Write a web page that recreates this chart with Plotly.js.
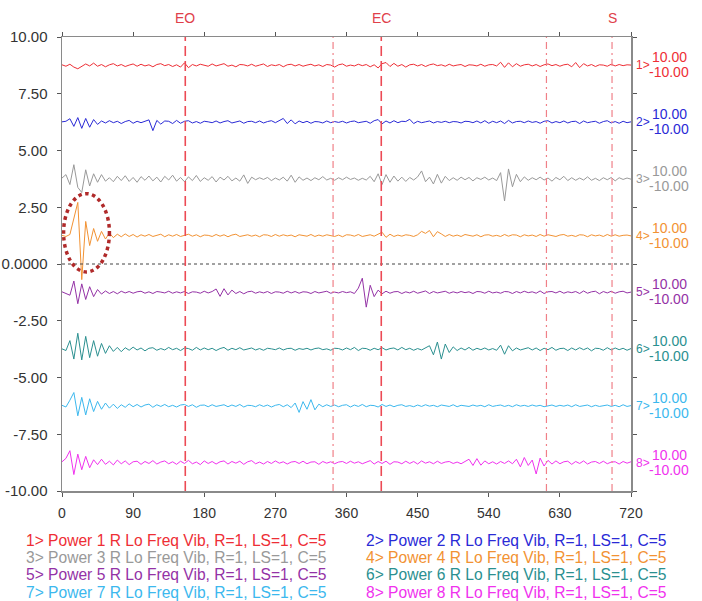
<!DOCTYPE html>
<html>
<head>
<meta charset="utf-8">
<script src="https://cdn.plot.ly/plotly-3.0.1.min.js"></script>
<style>html,body{margin:0;padding:0;background:#fff;}#chart{width:702px;height:601px;}</style>
</head>
<body>
<div id="chart"></div>
<script>
// ---------------- DATA ----------------
const sampleStep = 5;            // seconds between samples (0 .. 720)
const channelNames = [
  "1> Power 1 R Lo Freq Vib, R=1, LS=1, C=5",
  "2> Power 2 R Lo Freq Vib, R=1, LS=1, C=5",
  "3> Power 3 R Lo Freq Vib, R=1, LS=1, C=5",
  "4> Power 4 R Lo Freq Vib, R=1, LS=1, C=5",
  "5> Power 5 R Lo Freq Vib, R=1, LS=1, C=5",
  "6> Power 6 R Lo Freq Vib, R=1, LS=1, C=5",
  "7> Power 7 R Lo Freq Vib, R=1, LS=1, C=5",
  "8> Power 8 R Lo Freq Vib, R=1, LS=1, C=5"
];
const channelTags = ["1>", "2>", "3>", "4>", "5>", "6>", "7>", "8>"];
const channelMax = 10;   // each channel scaled -10.00 .. 10.00
const channelMin = -10;
const baselines = [8.75, 6.25, 3.75, 1.25, -1.25, -3.75, -6.25, -8.75];

const ch1 = [0.2,-0.3,0.4,-0.6,-1.2,-0.4,0.5,-0.2,0.8,-0.3,
 0.3,-0.5,0.2,0.6,-0.2,0.3,-0.4,0.1,0.5,-0.3,
 0.4,-0.2,0.2,-0.5,0.3,0.6,-0.1,0.3,-0.4,0.2,
 -0.6,0.9,-0.8,0.3,-0.2,0.4,0.1,-0.3,0.5,-0.2,
 0.2,0.6,-0.3,0.1,-0.5,0.3,0.2,-0.2,0.4,-0.3,
 0.1,0.5,-0.4,0.2,-0.1,0.3,-0.5,0.2,0.4,-0.2,
 0.3,-0.3,0.1,0.4,-0.2,0.2,-0.4,0.3,0.1,-0.6,
 0.2,0.5,-0.3,0.1,-0.2,0.4,-0.1,0.3,-0.5,0.2,
 -0.9,0.6,1.0,-0.4,0.7,-0.3,0.3,-0.6,0.2,0.4,
 -0.2,0.3,-0.4,0.2,0.5,-0.1,0.2,-0.3,0.4,-0.2,
 0.1,0.3,-0.4,0.2,0.1,-0.2,0.4,-0.3,0.2,0.3,
 -0.2,1.1,-0.7,0.9,-0.5,0.6,-0.3,0.2,0.4,-0.2,
 0.3,-0.4,0.2,0.5,-0.1,0.3,-0.3,0.2,0.4,-0.5,
 1.0,-0.8,0.6,-0.2,0.3,-0.4,0.2,0.1,-0.3,0.4,
 -0.2,0.3,-0.1,0.2,0.1];
const ch2 = [0.1,0.3,1.2,-1.5,1.6,-2.2,1.3,-1.8,0.9,-0.8,
 0.4,-0.3,0.5,-0.2,0.3,-0.5,0.2,0.6,-0.4,0.3,
 -0.2,0.4,0.8,-3.0,0.6,-0.7,0.4,0.3,-0.5,0.6,
 -0.4,0.3,0.5,-0.3,0.2,-0.4,0.3,0.1,-0.2,0.4,
 -0.3,0.2,0.5,-0.3,0.1,0.4,-0.4,0.2,0.3,-0.2,
 0.4,-0.3,0.2,0.5,-0.2,0.6,1.3,-0.5,0.8,-0.6,
 0.4,-0.2,0.3,-0.4,0.2,0.1,-0.3,0.4,-0.2,0.2,
 -0.1,0.3,-0.3,0.2,0.4,-0.2,0.1,0.3,-0.4,0.5,
 0.9,-0.6,0.4,-0.3,0.5,-0.2,0.3,0.2,1.0,-0.5,
 0.3,-0.2,0.1,0.4,-0.3,0.2,-0.1,0.3,-0.2,0.2,
 0.1,-0.3,0.3,0.2,-0.2,0.4,-0.3,0.5,-0.4,0.3,
 -0.2,0.4,-0.5,0.6,-0.3,0.2,0.3,-0.2,0.4,-0.1,
 0.2,-0.4,0.3,0.5,-0.3,0.2,-0.2,0.4,-0.3,0.2,
 0.3,-0.5,0.4,-0.2,0.1,0.3,-0.4,0.2,0.5,-0.3,
 0.2,-0.4,0.3,-0.2,0.1];
const ch3 = [0.3,1.5,-2.0,5.0,-3.0,-4.8,3.2,-2.5,1.8,-1.2,
 1.5,-0.8,0.4,-1.0,0.9,-0.6,1.1,-0.9,0.5,-1.2,
 0.8,-0.5,1.0,-0.7,0.6,-1.1,0.9,-0.4,1.3,-0.8,
 0.5,-1.0,0.7,-0.6,1.2,-0.9,0.4,-0.5,0.8,-1.1,
 0.6,-0.4,0.9,-0.7,0.3,-0.8,1.4,-1.6,0.6,-0.3,
 0.4,-0.2,0.5,-0.6,0.3,-0.4,0.6,-0.8,1.3,-1.2,
 0.7,-0.5,0.3,-0.6,0.4,-0.3,0.8,-0.4,0.2,-0.5,
 0.4,-0.3,0.6,-0.2,0.3,-0.5,0.2,-0.4,0.9,-1.0,
 1.8,-2.0,1.5,-1.2,1.0,-0.8,0.6,-0.9,0.5,-0.4,
 0.7,2.8,-1.0,0.6,-1.8,1.6,-1.5,0.9,-0.6,0.4,
 -0.5,0.6,-0.3,0.5,-0.7,0.4,-0.2,0.6,-0.4,0.3,
 -0.6,2.2,-7.8,3.5,-2.8,1.6,-1.0,0.7,-0.5,0.4,
 -0.3,0.6,-0.4,0.3,-0.8,0.5,-0.3,0.9,-0.6,0.4,
 -0.5,0.3,-0.4,0.7,-0.5,0.2,-0.6,0.4,-0.3,0.5,
 -0.7,0.4,-0.2,0.3,-0.1];
const ch4 = [0.1,-0.3,0.4,6.4,11.7,-15.5,5.0,-3.5,2.5,-2.0,
 1.5,-1.2,0.9,-0.7,0.5,-0.4,0.6,-0.3,0.4,-0.5,
 0.3,-0.2,0.4,-0.3,0.2,0.5,-0.4,0.3,-0.2,0.4,
 -0.3,0.2,0.5,-0.2,0.3,-0.4,0.2,0.1,-0.3,0.4,
 -0.2,0.3,-0.4,0.2,0.5,-0.3,0.1,0.3,-0.2,0.2,
 -0.4,0.3,0.2,-0.3,0.4,-0.2,0.3,-0.1,0.2,-0.4,
 0.3,0.1,-0.2,0.4,-0.3,0.2,-0.2,0.3,0.1,-0.3,
 0.2,-0.4,0.3,0.2,-0.2,0.4,-0.3,0.1,0.3,-0.2,
 0.4,1.2,-0.6,0.5,-0.3,0.2,-0.2,0.3,0.1,-0.3,
 0.3,1.5,0.8,1.8,-0.4,1.4,0.6,-0.3,0.4,-0.2,
 0.2,-0.3,0.4,0.1,-0.2,0.3,-0.4,0.2,0.3,-0.2,
 0.1,-0.3,0.4,-0.2,0.3,0.2,-0.4,0.3,-0.1,0.2,
 -0.3,0.4,-0.2,0.3,0.1,-0.3,0.2,0.4,-0.2,0.1,
 -0.3,0.3,0.2,-0.4,0.3,-0.1,0.2,-0.3,0.4,-0.2,
 0.3,-0.2,0.1,0.2,-0.1];
const ch5 = [0.2,-0.4,-1.0,4.0,-4.0,3.0,-2.5,2.0,-1.5,1.0,
 -0.6,0.5,-0.4,0.3,-0.5,0.4,-0.2,0.3,-0.3,0.2,
 0.4,-0.3,0.2,-0.4,0.3,0.1,-0.2,0.4,-0.3,0.2,
 -0.2,0.3,-0.4,0.2,0.1,-0.3,0.4,-0.2,0.3,1.2,
 -1.4,1.3,-0.9,0.8,-0.4,0.3,-0.5,0.2,0.4,-0.3,
 0.2,-0.2,0.3,-0.4,0.2,0.1,-0.3,0.4,-0.2,0.3,
 -0.3,0.2,0.1,-0.4,0.3,-0.2,0.2,0.4,-0.3,0.1,
 -0.2,0.3,-0.1,0.2,-0.4,1.5,5.0,-5.2,2.5,-1.5,
 0.8,-0.5,0.4,-0.3,0.2,0.3,-0.4,0.2,-0.2,0.4,
 -0.3,0.2,0.5,-0.4,0.3,-0.2,0.1,0.4,-0.3,0.2,
 -0.2,0.3,-0.1,0.2,-0.4,0.3,0.2,-0.3,0.4,-0.2,
 0.1,-0.3,0.3,0.2,-0.4,0.3,-0.2,0.4,-0.1,0.2,
 -0.3,0.5,-0.4,0.2,0.3,-0.2,0.4,-0.3,0.2,-0.1,
 0.3,-0.4,0.5,-0.3,0.2,0.4,-0.5,0.3,-0.2,0.4,
 -0.3,0.2,0.4,-0.2,0.1];
const ch6 = [0.1,-0.5,3.0,-3.5,5.6,-3.8,4.5,-3.0,3.0,-2.5,
 2.0,-1.5,1.2,-0.8,0.6,-0.9,0.5,-0.4,0.7,-0.3,
 0.4,-0.6,0.3,0.5,-0.4,0.2,-0.3,0.6,-0.2,0.3,
 -0.5,0.4,0.2,-0.4,0.6,-0.3,0.4,-0.2,0.3,-0.5,
 0.2,0.6,-0.4,0.3,-0.2,0.5,-0.3,0.1,0.4,-0.3,
 0.2,-0.4,0.3,0.1,-0.2,0.4,-0.3,0.2,0.3,-0.4,
 0.2,-0.1,0.3,-0.3,0.2,0.4,-0.2,0.1,-0.4,0.3,
 0.2,-0.3,0.4,-0.2,0.6,-0.5,0.3,0.2,-0.4,0.3,
 -0.2,0.5,-0.3,0.2,0.4,-0.3,0.6,-0.2,0.3,-0.4,
 0.2,-0.3,0.4,1.2,-2.0,2.5,-3.5,1.8,-1.2,0.8,
 -0.5,0.4,-0.3,0.6,-0.4,0.3,-0.2,0.4,-0.3,0.2,
 -0.4,1.4,-1.8,1.2,-0.6,0.4,-0.3,0.2,0.5,-0.3,
 0.4,-0.5,0.3,-0.2,0.6,-0.4,0.2,0.3,-0.5,0.4,
 -0.3,0.5,-0.2,0.4,-0.6,0.3,0.2,-0.4,0.5,-0.3,
 0.4,-0.2,0.3,-0.4,0.2];
const ch7 = [0.2,-0.4,2.0,4.7,-3.5,3.0,-3.2,2.5,-2.0,1.6,
 -1.2,1.0,-0.8,0.6,-0.9,0.4,-0.5,0.7,-0.3,0.5,
 -0.4,0.3,0.6,-0.5,0.4,-0.2,0.5,-0.3,0.2,-0.4,
 0.3,0.5,-0.2,0.4,-0.5,0.2,0.3,-0.3,0.4,-0.2,
 0.1,0.4,-0.3,0.3,-0.2,0.5,-0.4,0.2,0.1,-0.3,
 0.4,-0.2,0.3,-0.4,0.2,0.5,-0.3,0.4,-0.6,1.0,
 -2.3,1.5,-1.2,2.2,-1.4,0.6,-0.3,0.4,-0.2,0.3,
 -0.3,0.2,0.4,-0.4,0.3,-0.2,0.5,-0.3,0.2,0.1,
 -0.4,0.5,-0.2,0.3,-0.3,0.2,0.4,-0.2,0.1,-0.3,
 0.3,-0.2,0.4,-0.1,0.2,-0.3,0.3,0.1,-0.2,0.4,
 -0.3,0.2,0.1,-0.2,0.3,-0.1,0.2,-0.3,0.4,-0.2,
 0.1,0.3,-0.2,0.2,-0.3,0.4,-0.1,0.2,-0.2,0.3,
 -0.1,0.2,-0.3,0.1,0.3,-0.2,0.2,-0.1,0.3,-0.3,
 0.4,-0.2,0.1,0.3,-0.3,0.2,-0.2,0.1,0.3,-0.2,
 0.2,-0.3,0.4,-0.2,0.1];
const ch8 = [0.3,1.5,4.2,-4.2,3.0,-2.5,2.2,-1.8,1.0,-0.7,
 1.2,-0.6,0.5,-0.8,0.9,-0.4,0.6,-0.7,0.3,0.5,
 -0.6,0.4,-0.3,0.7,-0.5,0.2,0.6,-0.4,0.3,-0.6,
 0.5,-0.3,0.8,-0.4,0.2,-0.7,0.6,-0.3,0.4,-0.5,
 0.3,0.6,-0.5,0.4,-0.2,0.5,-0.6,0.3,0.7,-0.4,
 0.2,-0.5,0.4,-0.3,0.6,-0.2,0.3,-0.5,0.2,0.4,
 -0.3,0.5,-0.4,0.2,0.3,-0.6,0.4,-0.2,0.3,-0.4,
 0.2,0.4,-0.3,0.5,-0.2,0.3,-0.4,0.2,0.7,-0.5,
 0.4,-0.3,0.5,-0.6,0.3,0.2,-0.4,0.5,-0.3,0.4,
 -0.5,0.6,-0.2,0.3,-0.4,0.5,-0.3,0.2,0.4,-0.3,
 0.2,-0.4,0.5,1.2,-1.0,1.4,-0.9,0.6,-0.4,0.3,
 -0.5,0.4,-0.3,0.6,-0.4,1.2,-1.5,1.8,-1.0,0.9,
 -4.0,1.6,-1.2,0.8,-0.5,0.6,-0.4,0.3,0.5,-0.6,
 0.4,-0.3,0.6,-0.5,0.2,0.4,-0.3,0.5,-0.4,0.2,
 0.3,-0.5,0.4,-0.2,0.3];
const channelData = [ch1, ch2, ch3, ch4, ch5, ch6, ch7, ch8];

// event markers
const mainEvents = [156, 404, 696];
const mainEventLabels = ["EO", "EC", "S"];
const mainEventStyle = ["dash", "dash", "dashdot"];
const minorEvents = [343, 613];

// axis ticks
const xTicks = [0, 90, 180, 270, 360, 450, 540, 630, 720];
const yTickVals = [10, 7.5, 5, 2.5, 0, -2.5, -5, -7.5, -10];
const yTickText = ["10.00", "7.50", "5.00", "2.50", "0.0000", "-2.50", "-5.00", "-7.50", "-10.00"];

// ---------------- STYLE ----------------
const colors = ["#ee2e35", "#2a2ad6", "#999999", "#f29233", "#9432a6", "#2b9090", "#3cb8ee", "#f032ee"];
const FONT = "'Liberation Sans', Arial, sans-serif";
const axisGray = "#8a8a8a";

const bandHalf = 1.25; // half height of a channel band on the main axis
const traces = channelData.map((vals, k) => ({
  type: "scatter", mode: "lines",
  x: vals.map((_, i) => i * sampleStep),
  y: vals.map(v => baselines[k] + v * bandHalf / channelMax),
  line: {color: colors[k], width: 1},
  name: channelNames[k], showlegend: false, hoverinfo: "skip"
}));

const shapes = [];
const annotations = [];

// zero line
shapes.push({type: "line", xref: "paper", x0: 0, x1: 1, yref: "y", y0: 0, y1: 0,
  line: {color: "#444", width: 1, dash: "dot"}});

mainEvents.forEach((t, i) => {
  const major = mainEventStyle[i] === "dash";
  shapes.push({type: "line", xref: "x", x0: t, x1: t, yref: "paper", y0: 0, y1: 1,
    line: major ? {color: "#ec4a55", width: 1.6, dash: "10px,5px"}
                : {color: "#f08088", width: 1.2, dash: "7px,4px,2px,4px"}});
  annotations.push({xref: "x", x: t, yref: "paper", y: 1, yshift: 29, text: mainEventLabels[i],
    showarrow: false, font: {family: FONT, size: 14, color: "#e0404a"}});
});
minorEvents.forEach(t => {
  shapes.push({type: "line", xref: "x", x0: t, x1: t, yref: "paper", y0: 0, y1: 1,
    line: {color: "#f08088", width: 1.2, dash: "7px,4px,2px,4px"}});
});

// red dotted ellipse highlighting the orange transient
shapes.push({type: "circle", xref: "x", yref: "y", x0: 2, x1: 60, y0: -0.35, y1: 3.1,
  line: {color: "#b02a2a", width: 3.5, dash: "dot"}});

// right-side channel scale labels
baselines.forEach((b, k) => {
  const f = {family: FONT, size: 14, color: colors[k]};
  annotations.push({xref: "paper", x: 1, xanchor: "left", xshift: 3, yref: "y", y: b,
    text: channelTags[k], showarrow: false, font: {family: FONT, size: 12, color: colors[k]}});
  annotations.push({xref: "paper", x: 1, xanchor: "left", xshift: 19, yref: "y", y: b, yshift: 8,
    text: channelMax.toFixed(2), showarrow: false, font: f});
  annotations.push({xref: "paper", x: 1, xanchor: "left", xshift: 16, yref: "y", y: b, yshift: -7,
    text: channelMin.toFixed(2), showarrow: false, font: f});
});

// legend text block (two columns, four rows)
channelNames.forEach((name, k) => {
  const col = k % 2, row = Math.floor(k / 2);
  annotations.push({xref: "paper", yref: "paper", x: col === 0 ? -0.066 : 0.53, xanchor: "left",
    y: -0.11 - row * 0.0375, yanchor: "middle", text: name, showarrow: false,
    font: {family: FONT, size: 15.6, color: colors[k]}});
});

const layout = {
  width: 702, height: 601,
  margin: {l: 62, r: 71, t: 37, b: 110},
  paper_bgcolor: "#fff", plot_bgcolor: "#fff",
  showlegend: false,
  font: {family: FONT, size: 14, color: "#333"},
  xaxis: {range: [0, 720], tickvals: xTicks, ticktext: xTicks.map(String),
    showgrid: false, zeroline: false, showline: true, linecolor: axisGray, linewidth: 1.5,
    mirror: "ticks", ticks: "outside", ticklen: 4, tickcolor: "#555", tickwidth: 1,
    ticklabelstandoff: 5,
    tickfont: {family: FONT, size: 14, color: "#333"}},
  yaxis: {range: [-10, 10], tickvals: yTickVals, ticktext: yTickText,
    showgrid: false, zeroline: false, showline: true, linecolor: axisGray, linewidth: 1.5,
    mirror: "ticks", ticks: "outside", ticklen: 4, tickcolor: "#555", tickwidth: 1,
    ticklabelstandoff: 6,
    tickfont: {family: FONT, size: 15, color: "#333"}},
  shapes: shapes,
  annotations: annotations
};

Plotly.newPlot("chart", traces, layout, {displayModeBar: false, staticPlot: true});
</script>
</body>
</html>
